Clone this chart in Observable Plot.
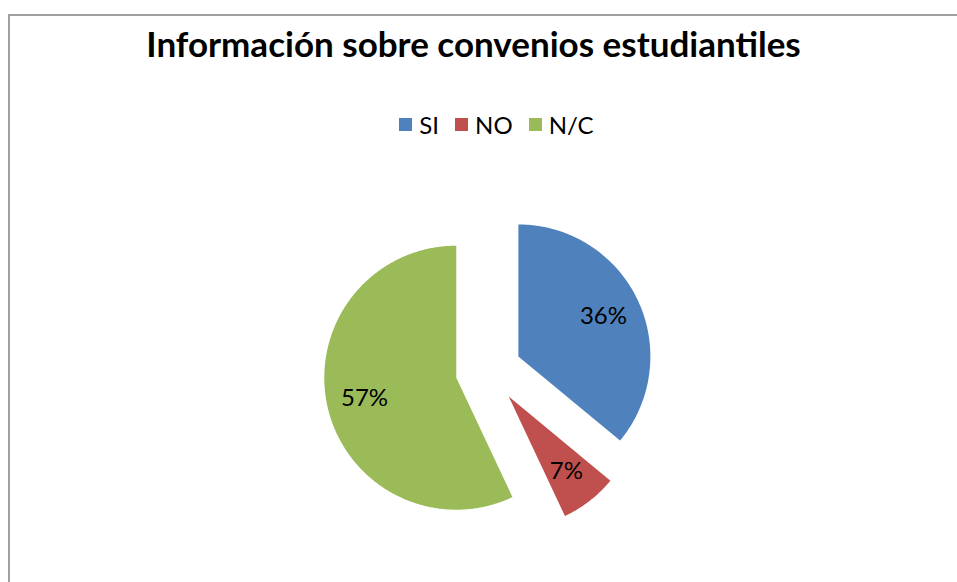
<!DOCTYPE html>
<html>
<head>
<meta charset="utf-8">
<script src="https://cdn.jsdelivr.net/npm/d3@7"></script>
<script src="https://cdn.jsdelivr.net/npm/@observablehq/plot@0.6"></script>
<style>
html, body { margin: 0; padding: 0; background: #fff; width: 957px; height: 582px; overflow: hidden; }
#frame { position: absolute; left: 8px; top: 14px; width: 1200px; height: 1000px;
  border-top: 2px solid #a0a0a0; border-left: 2px solid #a0a0a0; }
#wrap { position: absolute; left: 0; top: 0; width: 957px; }
#title { margin: 0; height: 64px; padding-top: 26px; font: bold 35px Lato, sans-serif;
  line-height: 35px; text-align: center; padding-right: 10px; color: #000; }
#chart figure { margin: 0; }
#chart .pie-swatches { font: 24px Lato, sans-serif; color: #000; margin: 0; height: 60px; min-height: 0;
  display: flex; align-items: center; justify-content: center; padding-left: 52px; padding-top: 8px;
  box-sizing: border-box; }
#chart .pie-swatches .pie-swatch { margin-right: 16px; display: inline-flex; align-items: center; }
#chart .pie-swatches .pie-swatch > svg { width: 13px; height: 13px; margin-right: 7px; }
</style>
</head>
<body>
<div id="frame"></div>
<div id="wrap">
  <div id="title"></div>
  <div id="chart"></div>
</div>
<script>
const titleText = "Información sobre convenios estudiantiles";
const categories = ["SI", "NO", "N/C"];
const percents = [36, 7, 57];
const labels = ["36%", "7%", "57%"];
const colors = ["#4F81BD", "#C0504D", "#9BBB59"];

document.getElementById("title").textContent = titleText;

const rows = categories.map((c, i) => ({cat: c, value: percents[i], label: labels[i]}));
const arcs = d3.pie().sort(null).value(d => d.value)(rows);

const R = 132, EXPLODE = 33, LABEL_R = 94;
const poly = [];
const labelPts = [];
arcs.forEach(a => {
  const cat = a.data.cat;
  const mid = (a.startAngle + a.endAngle) / 2;
  const ox = EXPLODE * Math.sin(mid), oy = EXPLODE * Math.cos(mid);
  poly.push({cat, x: ox, y: oy});
  const n = Math.max(2, Math.ceil((a.endAngle - a.startAngle) / (Math.PI / 360)));
  for (let k = 0; k <= n; k++) {
    const t = a.startAngle + (a.endAngle - a.startAngle) * k / n;
    poly.push({cat, x: ox + R * Math.sin(t), y: oy + R * Math.cos(t)});
  }
  labelPts.push({cat, text: a.data.label, x: ox + LABEL_R * Math.sin(mid), y: oy + LABEL_R * Math.cos(mid)});
});

const chart = Plot.plot({
  className: "pie",
  width: 957,
  height: 432,
  margin: 0,
  x: {domain: [-488, 469], axis: null},
  y: {domain: [-212, 220], axis: null},
  color: {domain: categories, range: colors, legend: true},
  style: {background: "transparent", fontFamily: "Lato, sans-serif"},
  marks: [
    Plot.line(poly, {x: "x", y: "y", z: "cat", fill: "cat", stroke: null, curve: "linear-closed"}),
    Plot.text(labelPts, {x: "x", y: "y", text: "text", fontSize: 24, fill: "#000", fontFamily: "Lato, sans-serif"})
  ]
});
document.getElementById("chart").appendChild(chart);
</script>
</body>
</html>
